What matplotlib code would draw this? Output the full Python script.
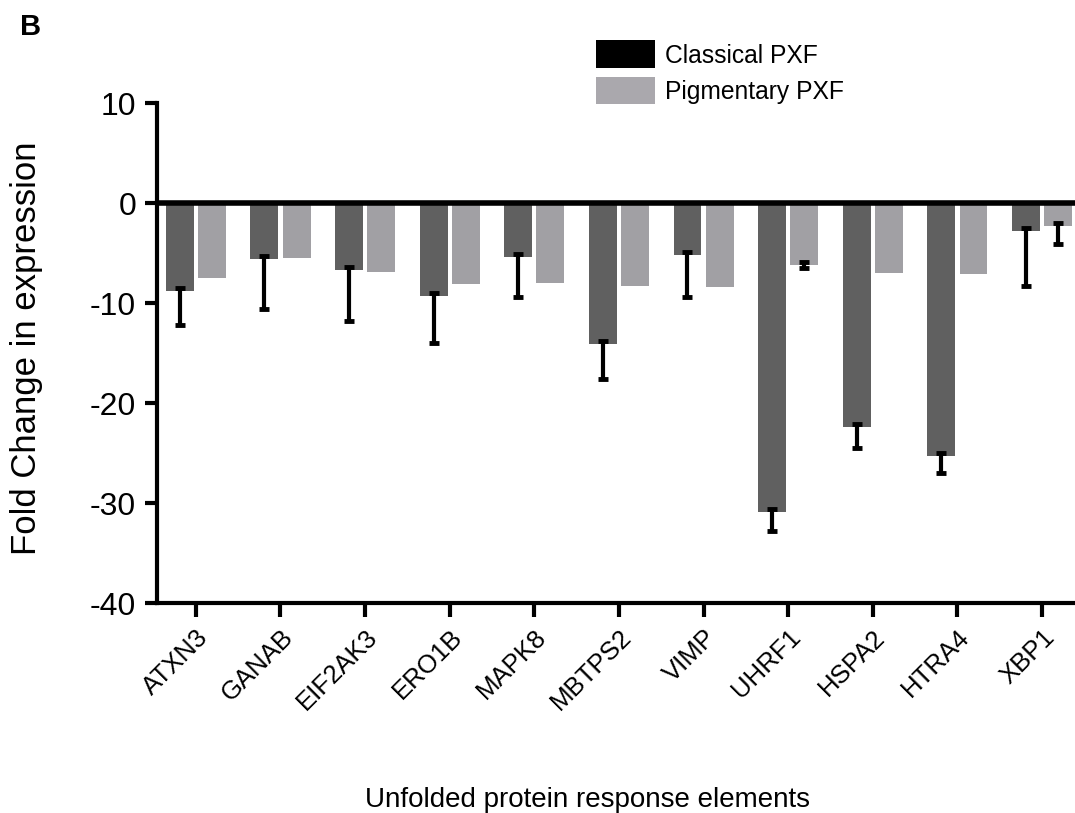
import numpy as np
import matplotlib
matplotlib.use('Agg')
import matplotlib.pyplot as plt
from matplotlib.patches import Patch

plt.rcParams['font.family'] = ['Liberation Sans', 'DejaVu Sans']
plt.rcParams['axes.unicode_minus'] = False

genes = ['ATXN3', 'GANAB', 'EIF2AK3', 'ERO1B', 'MAPK8', 'MBTPS2',
         'VIMP', 'UHRF1', 'HSPA2', 'HTRA4', 'XBP1']
classical = [-8.8, -5.6, -6.7, -9.3, -5.4, -14.1, -5.2, -30.9, -22.4, -25.3, -2.8]
classical_err = [3.4, 5.0, 5.1, 4.7, 4.0, 3.5, 4.2, 1.9, 2.1, 1.7, 5.5]
pigmentary = [-7.5, -5.5, -6.9, -8.1, -8.0, -8.3, -8.4, -6.2, -7.0, -7.1, -2.3]
pigmentary_err = [0, 0, 0, 0, 0, 0, 0, 0.3, 0, 0, 1.8]

dark = '#606060'
light = '#a1a0a4'

fig = plt.figure(figsize=(10.75, 8.13), dpi=100)
ax = fig.add_axes([0.146, 0.2583, 0.854, 0.615])

x = np.arange(len(genes))
off = 0.19
w = 0.33

ax.bar(x - off, classical, w, color=dark, zorder=2)
ax.bar(x + off, pigmentary, w, color=light, zorder=2)


def err_down(xpos, vals, errs):
    xpos = np.asarray(xpos)
    vals = np.asarray(vals)
    errs = np.asarray(errs)
    m = errs > 0
    # one-sided (downward) error bars, drawn from slightly inside the bar
    ax.errorbar(xpos[m], vals[m], yerr=[errs[m], np.full(m.sum(), 0.3)],
                fmt='none', ecolor='black', elinewidth=3, capsize=3.6,
                capthick=3.5, zorder=3)


err_down(x - off, classical, classical_err)
err_down(x + off, pigmentary, pigmentary_err)

ax.axhline(0, color='black', lw=4, zorder=4)

ax.set_ylim(-40, 10)
ax.set_xlim(-0.46, 10.39)
ax.set_yticks([10, 0, -10, -20, -30, -40])
ax.set_xticks(x)
ax.set_xticklabels(genes, rotation=45, ha='right', rotation_mode='anchor',
                   fontsize=18.5)
ax.tick_params(axis='y', labelsize=23, width=3, length=9, pad=6)
ax.tick_params(axis='x', width=3, length=10, pad=6)

for s in ['top', 'right']:
    ax.spines[s].set_visible(False)
for s in ['left', 'bottom']:
    ax.spines[s].set_linewidth(3)

ax.set_ylabel('Fold Change in expression', fontsize=25)
ax.yaxis.set_label_coords(-0.124, 0.51)
ax.set_xlabel('Unfolded protein response elements', fontsize=20)
ax.xaxis.set_label_coords(0.4695, -0.368)

handles = [Patch(facecolor='black'), Patch(facecolor='#aaa8ad')]
fig.legend(handles, ['Classical PXF', 'Pigmentary PXF'], loc='upper left',
           bbox_to_anchor=(596 / 1075, 1 - 40.5 / 813), frameon=False,
           fontsize=17.7, handlelength=2.4, handleheight=1.37,
           handletextpad=0.4, labelspacing=0.33, borderpad=0, borderaxespad=0)

fig.text(20 / 1075, 1 - 35 / 813, 'B', fontsize=21, fontweight='bold',
         ha='left', va='baseline')

fig.savefig('out.png', dpi=100)
